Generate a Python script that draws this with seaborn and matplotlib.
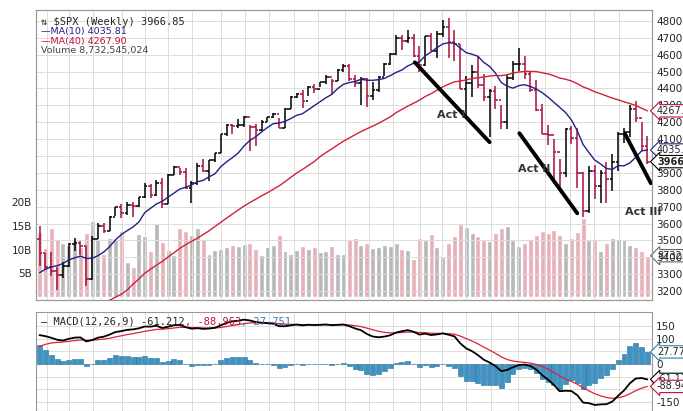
import numpy as np
import pandas as pd
import matplotlib
matplotlib.use('Agg')
import matplotlib.pyplot as plt
import seaborn as sns

# weekly closes Dec 2019 - Aug 2020 (history only, for MA / MACD warmup)
closes_prior = [3146, 3169, 3221, 3240, 3235, 3265, 3330, 3295, 3225, 3328, 3380, 3337,
                2954, 2972, 2711, 2305, 2541, 2489, 2790, 2875, 2837, 2831, 2930, 2864,
                2955, 3044, 3194, 3041, 3098, 3009, 3130, 3185, 3225, 3216, 3271, 3351,
                3373, 3397, 3508]

closes = [3427, 3341, 3319, 3298, 3348, 3477, 3484, 3465, 3270, 3509, 3585, 3558, 3638,
          3699, 3663, 3709, 3703, 3756,
          3825, 3768, 3841, 3714, 3887, 3934, 3907, 3811, 3842, 3943, 3913, 3974,
          4019, 4129, 4185, 4180, 4181, 4232, 4173, 4156, 4204, 4230, 4247, 4166, 4281,
          4352, 4370, 4327, 4411, 4395, 4437, 4468, 4442, 4509, 4535, 4459, 4433, 4455,
          4357, 4391, 4471, 4545, 4605, 4698, 4683, 4698, 4595, 4538, 4712, 4620, 4725, 4766,
          4677, 4662, 4398, 4432, 4500, 4418, 4349, 4385, 4329, 4204, 4463, 4543,
          4546, 4488, 4392, 4271, 4132, 4123, 4023, 3901, 4158, 4108, 3901, 3675, 3912,
          3825, 3899, 3863, 3962, 4130, 4145, 4280, 4228, 4058, 3966.85]

highs = [3588, 3425, 3429, 3340, 3370, 3486, 3515, 3497, 3465, 3529, 3605, 3606, 3645,
         3701, 3713, 3727, 3726, 3760,
         3838, 3836, 3860, 3871, 3894, 3938, 3932, 3928, 3851, 3960, 3983, 3979,
         4020, 4130, 4191, 4191, 4218, 4238, 4184, 4188, 4216, 4234, 4256, 4226, 4286,
         4356, 4372, 4393, 4415, 4429, 4441, 4480, 4455, 4513, 4545, 4544, 4478, 4466,
         4465, 4439, 4475, 4552, 4608, 4718, 4718, 4744, 4724, 4652, 4713, 4731, 4741, 4808,
         4818, 4749, 4665, 4472, 4539, 4595, 4488, 4398, 4416, 4304, 4480, 4563,
         4637, 4593, 4500, 4452, 4308, 4186, 4099, 3985, 4168, 4177, 4165, 3907, 3940,
         3946, 3918, 3966, 4012, 4141, 4168, 4301, 4326, 4203, 4119]

lows = [3349, 3330, 3292, 3209, 3280, 3344, 3440, 3415, 3233, 3268, 3511, 3546, 3556,
        3645, 3633, 3648, 3636, 3700,
        3750, 3749, 3766, 3694, 3714, 3885, 3885, 3805, 3723, 3831, 3905, 3853,
        3964, 4020, 4118, 4131, 4164, 4170, 4029, 4061, 4149, 4202, 4228, 4164, 4165,
        4280, 4343, 4282, 4358, 4375, 4406, 4425, 4367, 4442, 4500, 4446, 4406, 4305,
        4288, 4329, 4381, 4473, 4541, 4596, 4630, 4669, 4586, 4495, 4531, 4620, 4583, 4707,
        4582, 4565, 4395, 4222, 4352, 4401, 4327, 4115, 4279, 4162, 4161, 4452,
        4506, 4455, 4381, 4265, 4128, 4063, 3859, 3810, 3876, 4073, 3810, 3637, 3665,
        3743, 3722, 3721, 3790, 3913, 4080, 4115, 4200, 4032, 3955]

volume_b = [13.7, 10.3, 14.6, 12.3, 11.5, 11.0, 12.0, 10.5, 13.5, 16.0, 12.3, 9.2, 12.4,
            12.2, 13.9, 7.5, 6.4, 13.3,
            12.8, 9.8, 15.7, 11.6, 10.0, 8.8, 14.6, 14.0, 13.2, 14.6, 12.2, 9.0,
            10.0, 10.2, 10.5, 11.0, 10.7, 11.2, 11.5, 10.2, 8.8, 10.5, 11.0, 13.0, 9.8,
            9.0, 10.0, 10.8, 10.2, 10.5, 9.5, 9.8, 10.8, 9.2, 9.0, 12.0, 12.5, 11.0,
            11.5, 10.3, 10.5, 11.0, 10.8, 11.5, 10.2, 10.0, 8.0, 12.5, 12.0, 13.3, 10.5, 8.5,
            11.5, 12.8, 15.5, 14.8, 13.5, 12.8, 12.0, 11.8, 13.5, 14.5, 15.0, 12.0,
            10.8, 11.5, 12.2, 13.0, 14.0, 13.5, 14.2, 13.0, 11.5, 12.5, 13.8, 16.7, 12.0,
            12.0, 9.8, 11.5, 12.5, 12.2, 12.0, 11.0, 10.5, 9.8, 8.73]

month_labels = ['S', 'O', 'N', 'D', '21', 'F', 'M', 'A', 'M', 'J', 'J', 'A', 'S', 'O', 'N',
                'D', '22', 'F', 'M', 'A', 'M', 'J', 'J', 'A']
month_weeks = [1.2, 5.1, 9.2, 14.1, 18.0, 21.9, 26.1, 31.0, 35.1, 39.2, 43.6, 47.7, 52.3,
               56.4, 60.5, 65.1, 68.8, 72.9, 77.2, 81.9, 86.5, 90.8, 94.9, 99.2]

# "Act" trend lines drawn on the chart: (week, price) endpoints
act_lines = [((64.2, 4555), (77.0, 4082)), ((82.1, 4135), (92.0, 3661)), ((100.2, 4129), (104.6, 3839))]
act_labels = [('Act I', 68.0, 4224), ('Act II', 81.8, 3904), ('Act III', 100.2, 3650)]

UP = 'black'
DOWN = '#a50f3c'

all_c = pd.Series(closes_prior + closes, dtype=float)
n0 = len(closes_prior)
ma10 = all_c.rolling(10).mean().iloc[n0:].values
ma40 = all_c.rolling(40, min_periods=30).mean().iloc[n0:].values
macd_all = all_c.ewm(span=12, adjust=False).mean() - all_c.ewm(span=26, adjust=False).mean()
sig_all = macd_all.ewm(span=9, adjust=False).mean()
macd = macd_all.iloc[n0:].values
sig = sig_all.iloc[n0:].values
hist = macd - sig

n = len(closes)
wk = np.arange(n)
opens = [closes_prior[-1]] + closes[:-1]
up = np.array(closes) >= np.array(opens)
df = pd.DataFrame({'week': wk, 'ma10': ma10, 'ma40': ma40, 'macd': macd, 'signal': sig})

sns.set_style('white')
fig = plt.figure(figsize=(6.83, 4.11), dpi=100)
ax = fig.add_axes([0.0527, 0.27, 0.902, 0.7057])
axv = ax.twinx()
axm = fig.add_axes([0.0527, 0.0, 0.902, 0.241])

xlim = (-0.6, n - 0.2)

# volume in background
axv.bar(wk, volume_b, width=0.85, color=np.where(up, '#b8b8b8', '#e8b0b8'), zorder=1)
axv.set_ylim(-0.6, 60.5)
axv.yaxis.tick_left()
axv.set_yticks([5, 10, 15, 20])
axv.set_yticklabels(['5B', '10B', '15B', '20B'])
axv.tick_params(axis='y', length=0, labelsize=7.5, pad=3)
ax.set_zorder(axv.get_zorder() + 1)
ax.patch.set_visible(False)

ax.set_xlim(xlim)
axv.set_xlim(xlim)
ax.set_ylim(3147, 4865)
for t in range(3200, 4900, 100):
    ax.axhline(t, color='#dcdcdc', lw=0.7, zorder=0)
for mw in month_weeks:
    ax.axvline(mw, color='#dcdcdc', lw=0.7, zorder=0)

cols = np.where(up, UP, DOWN)
ax.vlines(wk, lows, highs, colors=cols, lw=1.1, zorder=3)
ax.hlines(opens, wk - 0.45, wk, colors=cols, lw=1.1, zorder=3)
ax.hlines(closes, wk, wk + 0.45, colors=cols, lw=1.1, zorder=3)

sns.lineplot(data=df, x='week', y='ma10', ax=ax, color='#20208a', lw=1, zorder=4)
sns.lineplot(data=df, x='week', y='ma40', ax=ax, color='#d0203a', lw=1, zorder=4)

for (p0, p1) in act_lines:
    ax.plot([p0[0], p1[0]], [p0[1], p1[1]], color='black', lw=2.8, zorder=5)
for lab, x, y in act_labels:
    ax.text(x, y, lab, fontsize=8, fontweight='bold', color='#333333', zorder=6)

ax.yaxis.tick_right()
ax.set_yticks(range(3200, 4900, 100))
ax.tick_params(axis='y', length=0, labelsize=7.5, pad=3, colors='#222222')
ax.set_xticks(month_weeks)
ax.set_xticklabels(month_labels)
ax.tick_params(axis='x', length=0, labelsize=7.5, pad=2)
for lbl in ax.get_xticklabels():
    if lbl.get_text() in ('21', '22'):
        lbl.set_fontweight('bold')
ax.set_xlabel('')
ax.set_ylabel('')
axv.set_xticks([])

mono = 'DejaVu Sans Mono'
ax.text(0.008, 0.96, '\u21c5 $SPX (Weekly) 3966.85', transform=ax.transAxes, fontsize=7.5,
        family=mono, va='center', zorder=7)
ax.text(0.008, 0.925, '\u2014MA(10) 4035.81', transform=ax.transAxes, fontsize=6.8,
        color='#20208a', va='center', zorder=7)
ax.text(0.008, 0.893, '\u2014MA(40) 4267.90', transform=ax.transAxes, fontsize=6.8,
        color='#c0103a', va='center', zorder=7)
ax.text(0.008, 0.861, 'Volume 8,732,545,024', transform=ax.transAxes, fontsize=6.8,
        color='#444444', va='center', zorder=7)

def tag(axis, y, txt, ec, bold=False, trans=None):
    axis.text(1.008, y, txt, transform=trans, fontsize=7, va='center',
              fontweight='bold' if bold else 'normal', clip_on=False, zorder=8,
              bbox=dict(boxstyle='larrow,pad=0.12', fc='white', ec=ec, lw=0.8))

tr = ax.get_yaxis_transform()
tag(ax, ma40[-1], '%.1f' % ma40[-1], '#c0103a', trans=tr)
tag(ax, ma10[-1], '%.1f' % ma10[-1], '#20208a', trans=tr)
tag(ax, closes[-1], '%.1f' % closes[-1], 'black', bold=True, trans=tr)
tag(axv, volume_b[-1], '87325', '#666666', trans=axv.get_yaxis_transform())

# MACD panel
axm.set_xlim(xlim)
axm.set_ylim(-186, 205)
for t in [-150, -100, -50, 0, 50, 100, 150]:
    axm.axhline(t, color='#dcdcdc', lw=0.7, zorder=0)
for mw in month_weeks:
    axm.axvline(mw, color='#dcdcdc', lw=0.7, zorder=0)
axm.bar(wk, hist * 1.7, width=0.85, color='#3d93c4', ec='#2a6f99', lw=0.4, zorder=2)
sns.lineplot(data=df, x='week', y='signal', ax=axm, color='#e0203a', lw=0.9, zorder=3)
sns.lineplot(data=df, x='week', y='macd', ax=axm, color='black', lw=1.3, zorder=4)
axm.yaxis.tick_right()
axm.set_yticks([-150, 0, 50, 100, 150])
axm.set_yticklabels(['-150', '0', '50', '100', '150'])
axm.tick_params(axis='y', length=0, labelsize=7.5, pad=3)
axm.set_xticks([])
axm.set_xlabel('')
axm.set_ylabel('')
t1 = axm.text(0.008, 0.9, '\u2014 MACD(12,26,9) -61.212', transform=axm.transAxes,
              fontsize=7.5, family=mono, va='center', zorder=6)
t2 = axm.annotate(', -88.963', xy=(1, 0.5), xycoords=t1, va='center', fontsize=7.5,
                  family=mono, color='#c0103a', zorder=6)
axm.annotate(', 27.751', xy=(1, 0.5), xycoords=t2, va='center', fontsize=7.5,
             family=mono, color='#2a7fb0', zorder=6)
mtr = axm.get_yaxis_transform()
tag(axm, hist[-1] * 1.7, '%.3f' % hist[-1], '#2a7fb0', trans=mtr)
tag(axm, macd[-1], '%.2f' % macd[-1], 'black', trans=mtr)
tag(axm, sig[-1], '%.2f' % sig[-1], '#c0103a', trans=mtr)

for a in (ax, axv, axm):
    for s in a.spines.values():
        s.set_color('#999999')
        s.set_linewidth(0.8)

fig.savefig('out.png', dpi=100)
